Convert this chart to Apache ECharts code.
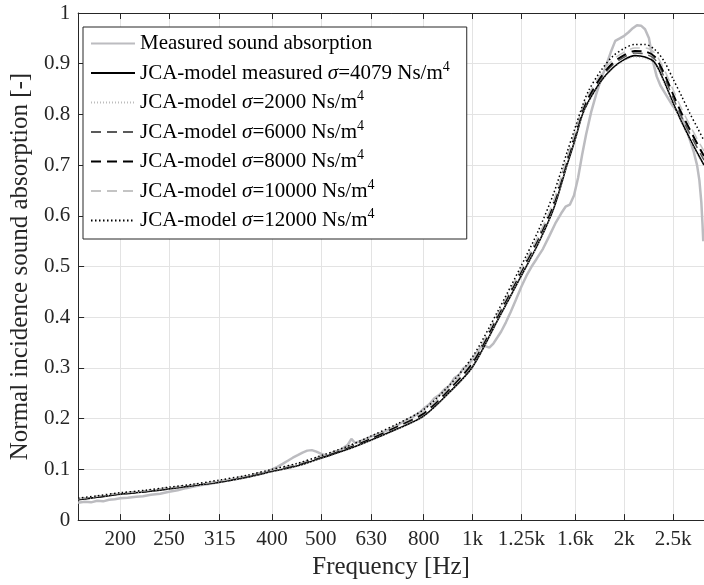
<!DOCTYPE html>
<html><head><meta charset="utf-8">
<script src="https://cdn.jsdelivr.net/npm/echarts@6/dist/echarts.min.js"></script>
<style>html,body{margin:0;padding:0;background:#fff}#c{width:704px;height:585px}</style>
</head><body><div id="c"></div>
<script>
// ---- data ----
const freq = [165,180,200,225,250,280,315,355,400,450,500,560,630,710,800,900,1000,1120,1250,1350,1450,1540,1600,1650,1700,1800,1900,2000,2100,2200,2300,2400,2500,2600,2700,2800,2880];
const s4079 = [0.040,0.045,0.051,0.056,0.0615,0.068,0.0747,0.084,0.0957,0.107,0.122,0.138,0.158,0.180,0.205,0.252,0.302,0.393,0.482,0.545,0.615,0.700,0.752,0.798,0.826,0.866,0.892,0.908,0.916,0.913,0.902,0.865,0.823,0.785,0.752,0.722,0.700];
const s2000 = [0.040,0.045,0.051,0.056,0.061,0.067,0.074,0.083,0.095,0.106,0.121,0.137,0.157,0.179,0.204,0.251,0.301,0.392,0.481,0.544,0.614,0.699,0.751,0.796,0.824,0.864,0.890,0.906,0.913,0.910,0.899,0.862,0.820,0.782,0.749,0.719,0.697];
const s6000 = [0.041,0.046,0.052,0.057,0.0625,0.069,0.076,0.085,0.097,0.109,0.124,0.141,0.161,0.184,0.209,0.257,0.308,0.399,0.489,0.552,0.622,0.706,0.758,0.803,0.831,0.871,0.898,0.913,0.921,0.919,0.909,0.874,0.833,0.795,0.762,0.732,0.710];
const s8000 = [0.041,0.046,0.052,0.057,0.063,0.069,0.076,0.086,0.098,0.110,0.125,0.142,0.162,0.186,0.211,0.259,0.311,0.402,0.492,0.556,0.626,0.710,0.762,0.807,0.835,0.875,0.902,0.917,0.925,0.924,0.914,0.881,0.840,0.802,0.770,0.740,0.718];
const s10000 = [0.042,0.047,0.053,0.058,0.064,0.070,0.077,0.087,0.099,0.111,0.126,0.143,0.164,0.188,0.214,0.262,0.315,0.405,0.495,0.559,0.630,0.714,0.766,0.811,0.840,0.880,0.908,0.923,0.931,0.931,0.921,0.889,0.849,0.811,0.779,0.749,0.728];
const s12000 = [0.043,0.048,0.054,0.059,0.065,0.071,0.079,0.088,0.100,0.112,0.127,0.144,0.166,0.190,0.218,0.266,0.322,0.410,0.502,0.570,0.645,0.725,0.775,0.815,0.847,0.887,0.915,0.930,0.938,0.938,0.928,0.905,0.870,0.836,0.802,0.772,0.748];

const measFreq = [165,170,175,180,185,190,195,200,207,215,222,230,240,250,260,270,280,290,300,315,330,345,360,375,390,400,410,420,430,440,450,460,470,480,490,500,510,520,535,550,565,575,585,600,615,630,650,670,690,710,735,760,785,800,820,840,860,880,900,920,940,960,980,1000,1020,1040,1060,1080,1100,1120,1140,1165,1190,1220,1250,1280,1310,1340,1380,1420,1460,1500,1530,1560,1590,1620,1650,1680,1720,1760,1800,1840,1880,1920,1960,2000,2040,2080,2120,2160,2200,2240,2280,2320,2360,2400,2450,2500,2550,2600,2650,2700,2750,2790,2820,2845,2860,2870];
const measVal = [0.034,0.036,0.035,0.038,0.037,0.040,0.041,0.043,0.044,0.046,0.047,0.050,0.052,0.056,0.059,0.063,0.066,0.069,0.071,0.075,0.079,0.082,0.086,0.090,0.095,0.100,0.105,0.111,0.117,0.123,0.128,0.133,0.137,0.138,0.135,0.131,0.128,0.128,0.133,0.140,0.148,0.160,0.152,0.156,0.160,0.165,0.170,0.175,0.180,0.187,0.196,0.203,0.212,0.220,0.228,0.240,0.247,0.258,0.265,0.280,0.286,0.300,0.305,0.318,0.330,0.342,0.343,0.340,0.348,0.360,0.372,0.390,0.410,0.435,0.460,0.482,0.500,0.515,0.535,0.560,0.585,0.605,0.618,0.622,0.640,0.675,0.720,0.760,0.805,0.840,0.870,0.895,0.922,0.945,0.950,0.955,0.962,0.970,0.976,0.975,0.968,0.950,0.905,0.875,0.857,0.845,0.830,0.816,0.806,0.795,0.775,0.750,0.725,0.700,0.670,0.627,0.585,0.550];

const tickFreqs = [200,250,315,400,500,630,800,1000,1250,1600,2000,2500];
const tickLabels = ['200','250','315','400','500','630','800','1k','1.25k','1.6k','2k','2.5k'];
const seriesNames = ['Measured sound absorption','JCA-model measured σ=4079 Ns/m^4','JCA-model σ=2000 Ns/m^4','JCA-model σ=6000 Ns/m^4','JCA-model σ=8000 Ns/m^4','JCA-model σ=10000 Ns/m^4','JCA-model σ=12000 Ns/m^4'];

// ---- chart ----
const FONT = 'Liberation Serif';
const AX = '#262626';
const GRIDC = '#e3e3e3';
function pairs(xs, ys){ return xs.map((x,i)=>[x, ys[i]]); }
const labelMap = {}; tickFreqs.forEach((f,i)=>{ labelMap[f] = tickLabels[i]; });
function legendFmt(name){
  const parts = name.split('σ');
  if (parts.length < 2) return '{n|' + name + '}';
  return '{n|' + parts[0] + '}{i|σ}{n|' + parts[1].replace('^4','') + '}{s|4}';
}
function line(name, data, color, width, type, z, smooth){
  return { name, type:'line', data, showSymbol:false, symbol:'none', smooth, z,
    lineStyle:{ color, width, type }, itemStyle:{ color }, emphasis:{disabled:true} };
}
const chart = echarts.init(document.getElementById('c'), null, {renderer:'canvas'});
const xBase = { type:'log', logBase:10, min:165, max:2880 };
chart.setOption({
  animation:false,
  backgroundColor:'#fff',
  textStyle:{ fontFamily:FONT },
  grid:{ left:68, right:0, top:13, bottom:63 },
  xAxis:[
    Object.assign({}, xBase, {
      position:'bottom',
      axisLine:{ show:true, lineStyle:{ color:AX, width:1 } },
      axisTick:{ show:true, inside:true, length:6, customValues:tickFreqs, lineStyle:{ color:AX } },
      axisLabel:{ customValues:tickFreqs, formatter:v=>labelMap[Math.round(v)] || '', fontFamily:FONT, fontSize:21, color:AX, margin:9 },
      splitLine:{ show:true, lineStyle:{ color:GRIDC, width:1 } },
      minorTick:{show:false}, minorSplitLine:{show:false},
      name:'Frequency [Hz]', nameLocation:'middle', nameGap:33,
      nameTextStyle:{ fontFamily:FONT, fontSize:25, color:AX }
    }),
    Object.assign({}, xBase, {
      position:'top',
      axisLine:{ show:true, lineStyle:{ color:AX, width:1 } },
      axisTick:{ show:true, inside:true, length:6, customValues:tickFreqs, lineStyle:{ color:AX } },
      axisLabel:{ show:false },
      splitLine:{ show:false }
    })
  ],
  yAxis:{
    type:'value', min:0, max:1, interval:0.1,
    axisLine:{ show:true, lineStyle:{ color:AX, width:1 } },
    axisTick:{ show:true, inside:true, length:6, lineStyle:{ color:AX } },
    axisLabel:{ fontFamily:FONT, fontSize:21, color:AX, margin:8 },
    splitLine:{ show:true, lineStyle:{ color:GRIDC, width:1 } },
    name:'Normal incidence sound absorption [-]', nameLocation:'middle', nameGap:38,
    nameTextStyle:{ fontFamily:FONT, fontSize:25, color:AX }
  },
  legend:{
    data:seriesNames, orient:'vertical', left:83, top:27,
    padding:[6,17,8,7], itemGap:6, itemWidth:44, itemHeight:14,
    backgroundColor:'#fff', borderColor:AX, borderWidth:1, borderRadius:0,
    selectedMode:false, formatter:legendFmt,
    itemStyle:{ opacity:0, borderWidth:0 },
    textStyle:{ fontFamily:FONT, fontSize:21, color:'#000',
      rich:{
        n:{ fontFamily:FONT, fontSize:21, lineHeight:26, color:'#000' },
        i:{ fontFamily:FONT, fontSize:21, lineHeight:26, color:'#000', fontStyle:'italic' },
        s:{ fontFamily:FONT, fontSize:14, lineHeight:13, color:'#000', verticalAlign:'top' }
      } }
  },
  series:[
    line(seriesNames[0], pairs(measFreq, measVal), '#bcbcc0', 2.5, 'solid', 2, false),
    line(seriesNames[1], pairs(freq, s4079), '#000000', 1.6, 'solid', 3, 0.3),
    line(seriesNames[2], pairs(freq, s2000), '#bdbdbd', 1, [1,2], 3, 0.3),
    line(seriesNames[3], pairs(freq, s6000), '#5a5a5a', 1.5, [10,6], 3, 0.3),
    line(seriesNames[4], pairs(freq, s8000), '#000000', 2, [10,6], 3, 0.3),
    line(seriesNames[5], pairs(freq, s10000), '#c4c4c4', 1.5, [10,6], 3, 0.3),
    line(seriesNames[6], pairs(freq, s12000), '#000000', 1.5, [1.5,2.5], 3, 0.3)
  ]
});
</script></body></html>
